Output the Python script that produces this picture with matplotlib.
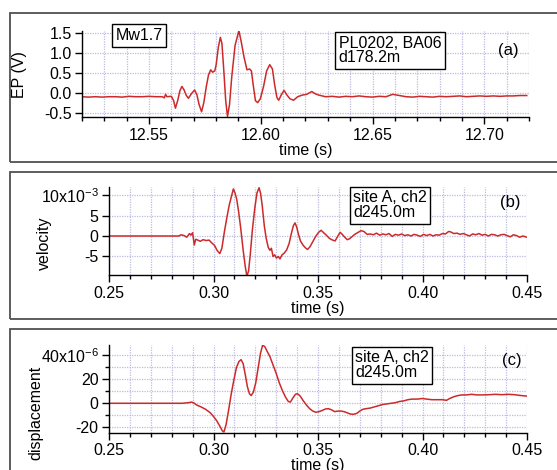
import matplotlib
matplotlib.use('Agg')
import matplotlib.pyplot as plt
from matplotlib.patches import Rectangle
from matplotlib.ticker import MultipleLocator, FuncFormatter

plt.rcParams['font.family'] = ['Liberation Sans', 'DejaVu Sans']
plt.rcParams['mathtext.fontset'] = 'custom'
plt.rcParams['mathtext.rm'] = 'Liberation Sans'
plt.rcParams['mathtext.it'] = 'Liberation Sans:italic'

# (a) EP signal, PL0202 / BA06
ep_t = [12.520, 12.523, 12.526, 12.529, 12.532, 12.535, 12.538, 12.541, 12.544, 12.547,
        12.550, 12.553, 12.556, 12.5568, 12.5574, 12.5580, 12.5600, 12.5610, 12.5618, 12.5628,
        12.5638, 12.5647, 12.5656, 12.5666, 12.5676, 12.5690, 12.5704, 12.5714, 12.5724, 12.5735,
        12.5745, 12.5756, 12.5766, 12.5776, 12.5784, 12.5794, 12.5800, 12.5810, 12.5819, 12.5826,
        12.5834, 12.5843, 12.5851, 12.5860, 12.5870, 12.5885, 12.5902, 12.5912, 12.5925, 12.5938,
        12.5950, 12.5958, 12.5966, 12.5976, 12.5986, 12.5998, 12.6012, 12.6026, 12.6040, 12.6052,
        12.6062, 12.6072, 12.6080, 12.6092, 12.6104, 12.6116, 12.6130, 12.6146, 12.6165, 12.6185,
        12.6205, 12.6228, 12.6245, 12.626, 12.629, 12.632, 12.635, 12.638, 12.641, 12.644,
        12.647, 12.650, 12.653, 12.656, 12.659, 12.662, 12.665, 12.668, 12.671, 12.674,
        12.677, 12.680, 12.683, 12.686, 12.689, 12.692, 12.695, 12.698, 12.701, 12.704,
        12.707, 12.710, 12.713, 12.716, 12.719]
ep_v = [-0.10, -0.11, -0.10, -0.11, -0.10, -0.10, -0.11, -0.09, -0.10, -0.10,
        -0.09, -0.10, -0.10, -0.13, -0.04, -0.10, -0.09, -0.20, -0.39, -0.20,
        0.05, 0.16, 0.08, -0.06, -0.14, -0.02, 0.07, -0.05, -0.30, -0.48,
        -0.25, 0.15, 0.45, 0.58, 0.52, 0.55, 0.70, 1.15, 1.40, 1.25,
        0.60, -0.20, -0.60, -0.30, 0.40, 1.20, 1.57, 1.30, 0.90, 0.58,
        0.60, 0.55, 0.20, -0.20, -0.25, -0.15, 0.15, 0.55, 0.71, 0.60,
        0.20, -0.12, -0.19, -0.05, 0.06, -0.05, -0.15, -0.19, -0.10, -0.06,
        -0.04, 0.03, -0.03, -0.06, -0.10, -0.09, -0.11, -0.09, -0.10, -0.08,
        -0.10, -0.11, -0.09, -0.10, -0.04, -0.07, -0.10, -0.11, -0.09, -0.10,
        -0.11, -0.09, -0.10, -0.09, -0.08, -0.10, -0.09, -0.08, -0.09, -0.08,
        -0.09, -0.08, -0.08, -0.07, -0.07]

# (b) velocity, site A ch2, in units of 1e-3
vel_t = [0.2500, 0.2835, 0.2844, 0.2860, 0.2872, 0.2885, 0.2892, 0.2900, 0.2908, 0.2915,
         0.2925, 0.2937, 0.2950, 0.2965, 0.2979, 0.2990, 0.3005, 0.3017, 0.3030, 0.3040,
         0.3052, 0.3064, 0.3075, 0.3085, 0.3095, 0.3103, 0.3111, 0.3120, 0.3130, 0.3142,
         0.3152, 0.3160, 0.3168, 0.3176, 0.3186, 0.3198, 0.3208, 0.3218, 0.3225, 0.3233,
         0.3243, 0.3252, 0.3262, 0.3270, 0.3277, 0.3285, 0.3293, 0.3301, 0.3310, 0.3318,
         0.3328, 0.3338, 0.3350, 0.3362, 0.3372, 0.3382, 0.3390, 0.3398, 0.3406, 0.3416,
         0.3428, 0.3440, 0.3450, 0.3462, 0.3475, 0.3490, 0.3503, 0.3515, 0.3527, 0.3540,
         0.3555, 0.3570, 0.3582, 0.3595, 0.3606, 0.3616, 0.3628, 0.3640, 0.3650, 0.3662,
         0.3676, 0.3692, 0.3706, 0.3720, 0.3735, 0.3750, 0.3765, 0.3780, 0.3795, 0.3810,
         0.3825, 0.3840, 0.3855, 0.3870, 0.3885, 0.3900, 0.3915, 0.3930, 0.3945, 0.3960,
         0.3975, 0.3990, 0.4005, 0.4020, 0.4035, 0.4050, 0.4065, 0.4080, 0.4095, 0.4110,
         0.4125, 0.4135, 0.4150, 0.4165, 0.4180, 0.4195, 0.4210, 0.4225, 0.4240, 0.4255,
         0.4270, 0.4285, 0.4300, 0.4315, 0.4330, 0.4345, 0.4360, 0.4375, 0.4390, 0.4405,
         0.4420, 0.4435, 0.4450, 0.4465, 0.4480, 0.4500]
vel_v = [0.0, 0.0, 0.3, 0.1, -0.3, 0.6, 0.2, 0.8, -2.2, -0.8,
         -1.0, -1.3, -0.9, -1.1, -1.0, -1.6, -2.3, -3.5, -4.3, -3.0,
         1.0, 4.5, 7.5, 9.5, 11.5, 10.5, 9.0, 6.0, 2.0, -3.5,
         -7.5, -9.8, -8.5, -4.5, 1.5, 7.0, 10.5, 11.8, 10.5, 7.5,
         2.5, -0.5, -2.8, -3.5, -3.0, -5.0, -4.6, -5.4, -5.0, -5.6,
         -4.6, -4.2, -3.4, -1.8, 0.5, 2.5, 3.2, 2.2, 0.5, -1.2,
         -2.2, -2.9, -3.3, -2.6, -1.4, 0.0, 0.9, 1.4, 0.8, 0.2,
         -0.6, -1.0, -1.2, 0.0, 0.9, 0.4, -0.3, -0.9, -0.7, -0.2,
         0.4, 0.9, 1.3, 1.1, 0.4, 0.5, 0.3, 0.7, 0.2, 0.5,
         0.3, 0.6, -0.1, 0.4, 0.2, 0.5, 0.1, 0.3, 0.0, 0.4,
         0.2, -0.1, 0.4, 0.1, 0.4, 0.0, 0.3, 0.2, 0.6, 0.5,
         1.1, 1.0, 0.6, 0.7, 0.4, 0.6, 0.3, 0.0, 0.5, 0.3,
         0.6, 0.2, 0.4, 0.0, 0.4, 0.3, 0.0, 0.3, 0.4, 0.1,
         -0.2, 0.3, 0.1, -0.3, 0.0, -0.3]

# (c) displacement, site A ch2, in units of 1e-6
disp_t = [0.2500, 0.2850, 0.2880, 0.2895, 0.2905, 0.2920, 0.2940, 0.2962, 0.2985, 0.3000,
          0.3015, 0.3030, 0.3042, 0.3050, 0.3060, 0.3072, 0.3085, 0.3098, 0.3110, 0.3122,
          0.3132, 0.3142, 0.3152, 0.3162, 0.3172, 0.3180, 0.3190, 0.3202, 0.3214, 0.3225,
          0.3235, 0.3245, 0.3255, 0.3270, 0.3285, 0.3300, 0.3315, 0.3330, 0.3345, 0.3358,
          0.3368, 0.3380, 0.3392, 0.3402, 0.3415, 0.3430, 0.3445, 0.3460, 0.3475, 0.3490,
          0.3505, 0.3520, 0.3535, 0.3550, 0.3565, 0.3580, 0.3595, 0.3610, 0.3625, 0.3640,
          0.3655, 0.3670, 0.3685, 0.3700, 0.3715, 0.3730, 0.3750, 0.3770, 0.3790, 0.3810,
          0.3830, 0.3850, 0.3870, 0.3890, 0.3910, 0.3930, 0.3950, 0.3975, 0.4000, 0.4020,
          0.4045, 0.4070, 0.4095, 0.4115, 0.4130, 0.4150, 0.4170, 0.4190, 0.4210, 0.4235,
          0.4260, 0.4290, 0.4320, 0.4350, 0.4380, 0.4410, 0.4440, 0.4470, 0.4500]
disp_v = [0.0, 0.0, 0.5, 1.0, 0.4, -1.5, -3.0, -5.0, -8.0, -11.0,
          -14.5, -19.0, -23.0, -24.0, -18.0, -6.0, 8.0, 20.0, 30.0, 35.0,
          36.5, 33.0, 24.0, 14.0, 8.0, 6.5, 9.0, 17.0, 30.0, 42.0,
          48.5, 47.5, 44.0, 39.0, 32.0, 25.0, 17.0, 10.5, 5.0, 1.5,
          1.0, 4.5, 7.5, 8.0, 6.0, 2.0, -1.5, -4.5, -6.5, -7.5,
          -7.0, -6.0, -4.8, -4.5, -5.5, -7.0, -6.5, -6.5, -7.0, -8.0,
          -9.0, -9.2, -8.5, -6.5, -5.0, -4.5, -4.0, -3.0, -2.0, -1.0,
          -0.5, 0.0, 0.5, 1.5, 2.0, 3.0, 3.5, 3.5, 4.0, 3.5,
          3.0, 3.0, 3.0, 2.5, 4.0, 5.5, 6.5, 7.0, 7.0, 7.5,
          7.0, 7.0, 7.2, 7.5, 7.2, 7.5, 7.2, 6.5, 6.0]

W, H = 557, 470
RED = '#cc2a2a'
GRID = '#bcbce2'
FS = 11.5

fig = plt.figure(figsize=(W / 100, H / 100), dpi=100)
fig.patch.set_facecolor('white')


def fx(px):
    return px / W


def fy(py):
    return 1 - py / H


# panel frames (they run past the right edge of the page)
for top, bot in [(13, 162), (171.7, 319.3), (329, 480)]:
    fig.add_artist(Rectangle((fx(10), fy(bot)), fx(600), (bot - top) / H,
                             transform=fig.transFigure, fill=False,
                             ec='#505050', lw=1.3))


def make_axes(left, right, top, bottom):
    ax = fig.add_axes([fx(left), fy(bottom), (right - left) / W, (bottom - top) / H])
    for s in ['top', 'right']:
        ax.spines[s].set_visible(False)
    for s in ['left', 'bottom']:
        ax.spines[s].set_linewidth(1.0)
    ax.tick_params(which='major', direction='out', length=5, width=1,
                   labelsize=FS, pad=2.5)
    ax.tick_params(which='minor', direction='out', length=3, width=1)
    ax.set_axisbelow(True)
    return ax


def sci_fmt(top_val, exp):
    def f(v, pos):
        if abs(v - top_val) < 1e-9:
            return r'%dx10$^{%d}$' % (top_val, exp)
        return '%d' % round(v)
    return FuncFormatter(f)


# (a)
ax1 = make_axes(82, 529, 31, 117.3)
ax1.plot(ep_t, ep_v, color=RED, lw=1.1)
ax1.set_xlim(12.52, 12.72)
ax1.set_ylim(-0.62, 1.56)
ax1.xaxis.set_major_locator(MultipleLocator(0.05))
ax1.xaxis.set_minor_locator(MultipleLocator(0.01))
ax1.xaxis.set_major_formatter(FuncFormatter(lambda v, p: '%.2f' % v))
ax1.yaxis.set_major_locator(MultipleLocator(0.5))
ax1.yaxis.set_major_formatter(FuncFormatter(lambda v, p: '%.1f' % v))
ax1.grid(which='both', axis='x', color=GRID, ls=(0, (1, 1)), lw=0.9)
ax1.grid(which='major', axis='y', color=GRID, ls=(0, (1, 1)), lw=0.9)
ax1.set_xlabel('time (s)', fontsize=FS, labelpad=0)
ax1.set_ylabel('EP (V)', fontsize=FS)
ax1.yaxis.set_label_coords(-0.123, 0.5)

# (b)
ax2 = make_axes(109, 527, 187.3, 275.3)
ax2.plot(vel_t, vel_v, color=RED, lw=1.1)
ax2.set_xlim(0.25, 0.45)
ax2.set_ylim(-9.6, 11.9)
ax2.xaxis.set_major_locator(MultipleLocator(0.05))
ax2.xaxis.set_minor_locator(MultipleLocator(0.01))
ax2.xaxis.set_major_formatter(FuncFormatter(lambda v, p: '%.2f' % v))
ax2.yaxis.set_major_locator(MultipleLocator(5))
ax2.yaxis.set_major_formatter(sci_fmt(10, -3))
ax2.grid(which='both', axis='x', color=GRID, ls=(0, (1, 1)), lw=0.9)
ax2.grid(which='major', axis='y', color=GRID, ls=(0, (1, 1)), lw=0.9)
ax2.set_xlabel('time (s)', fontsize=FS, labelpad=0)
ax2.set_ylabel('velocity', fontsize=FS)
ax2.yaxis.set_label_coords(-0.136, 0.36)

# (c)
ax3 = make_axes(109, 527, 345.3, 432.7)
ax3.plot(disp_t, disp_v, color=RED, lw=1.1)
ax3.set_xlim(0.25, 0.45)
ax3.set_ylim(-24.6, 48.5)
ax3.xaxis.set_major_locator(MultipleLocator(0.05))
ax3.xaxis.set_minor_locator(MultipleLocator(0.01))
ax3.xaxis.set_major_formatter(FuncFormatter(lambda v, p: '%.2f' % v))
ax3.yaxis.set_major_locator(MultipleLocator(20))
ax3.yaxis.set_minor_locator(MultipleLocator(10))
ax3.yaxis.set_major_formatter(sci_fmt(40, -6))
ax3.grid(which='both', color=GRID, ls=(0, (1, 1)), lw=0.9)
ax3.set_xlabel('time (s)', fontsize=FS, labelpad=0)
ax3.set_ylabel('displacement', fontsize=FS)
ax3.yaxis.set_label_coords(-0.156, 0.225)

# annotation boxes
box = dict(boxstyle='square,pad=0.22', fc='white', ec='black', lw=1.0)
fig.text(fx(139), fy(35.5), 'Mw1.7', fontsize=FS, ha='center', va='center', bbox=box)
fig.text(fx(390), fy(50.5), 'PL0202, BA06\nd178.2m', fontsize=FS, ha='center',
         va='center', multialignment='left', linespacing=1.0, bbox=box)
fig.text(fx(390), fy(205.3), 'site A, ch2\nd245.0m', fontsize=FS, ha='center',
         va='center', multialignment='left', linespacing=1.0, bbox=box)
fig.text(fx(392), fy(365.3), 'site A, ch2\nd245.0m', fontsize=FS, ha='center',
         va='center', multialignment='left', linespacing=1.0, bbox=box)

fig.text(fx(508), fy(50), '(a)', fontsize=12, ha='center', va='center')
fig.text(fx(510), fy(203), '(b)', fontsize=12, ha='center', va='center')
fig.text(fx(512), fy(360), '(c)', fontsize=12, ha='center', va='center')

fig.savefig('out.png', dpi=100)
